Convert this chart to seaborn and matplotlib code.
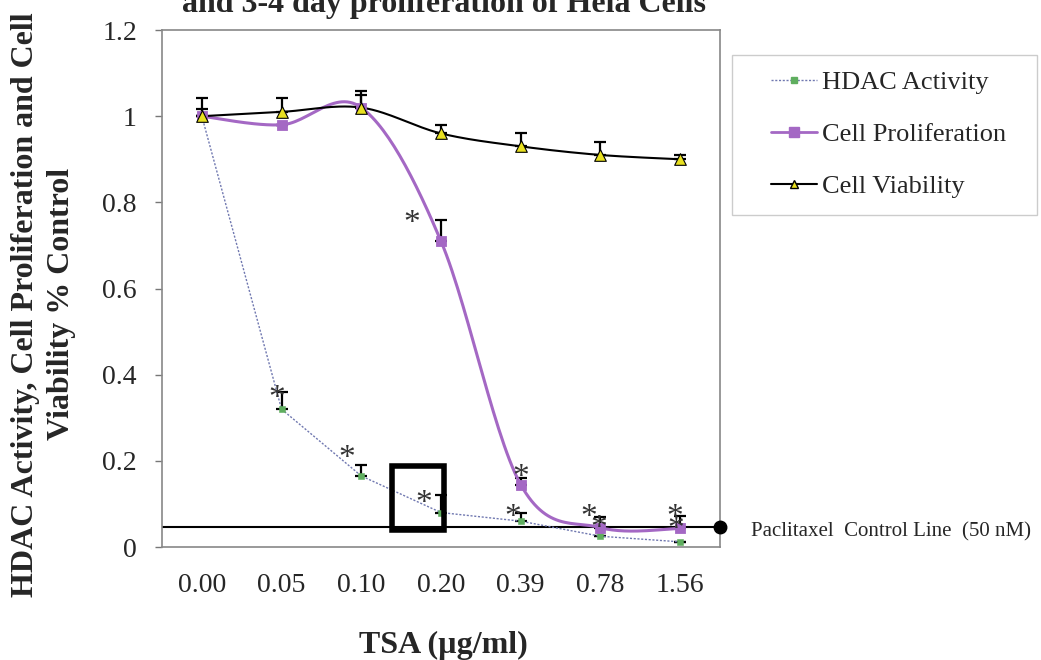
import numpy as np
import seaborn as sns
import matplotlib
matplotlib.use("Agg")
import matplotlib.pyplot as plt
from matplotlib.lines import Line2D
from matplotlib.patches import Rectangle

doses = ["0.00", "0.05", "0.10", "0.20", "0.39", "0.78", "1.56"]
hdac = [1.00, 0.32, 0.165, 0.08, 0.06, 0.025, 0.012]
hdac_err = [0.0, 0.04, 0.025, 0.04, 0.019, 0.0, 0.0]
prolif = [1.00, 0.98, 1.02, 0.71, 0.145, 0.045, 0.043]
prolif_err = [0.017, 0.0, 0.03, 0.05, 0.015, 0.025, 0.029]
viab = [1.00, 1.01, 1.02, 0.96, 0.93, 0.91, 0.90]
viab_err = [0.042, 0.032, 0.038, 0.02, 0.03, 0.03, 0.01]
paclitaxel = 0.047
# significance marks: (category, value)
stars = [(0.94, 0.345), (1.82, 0.205), (2.78, 0.10), (2.63, 0.75),
         (3.9, 0.067), (4.0, 0.16), (4.85, 0.068), (4.98, 0.043),
         (5.93, 0.068), (5.95, 0.04)]

sns.set_style("white")
plt.rcParams["font.family"] = ["Liberation Serif", "DejaVu Serif"]

purple = "#a468c4"
green = "#5fae5f"
dotted_blue = "#7078b0"


def smooth(y, n=30):
    # Excel-style smoothed line (Catmull-Rom bezier)
    y = np.asarray(y, float)
    x = np.arange(len(y), dtype=float)
    pts = np.column_stack([x, y])
    out = []
    for i in range(len(pts) - 1):
        p0 = pts[max(i - 1, 0)]
        p1 = pts[i]
        p2 = pts[i + 1]
        p3 = pts[min(i + 2, len(pts) - 1)]
        c1 = p1 + (p2 - p0) / 6
        c2 = p2 - (p3 - p1) / 6
        t = np.linspace(0, 1, n)[:, None]
        seg = ((1 - t) ** 3) * p1 + 3 * ((1 - t) ** 2) * t * c1 + 3 * (1 - t) * t ** 2 * c2 + t ** 3 * p2
        out.append(seg if i == 0 else seg[1:])
    return np.vstack(out)


fig = plt.figure(figsize=(10.41, 6.6), dpi=100)
ax = fig.add_axes([0.1556, 0.1712, 0.536, 0.7833])

xs = np.arange(len(doses))

# paclitaxel control line
ax.axhline(paclitaxel, color="black", lw=1.5, zorder=1)
ax.plot([6.5], [paclitaxel], "o", color="black", ms=9, clip_on=False, zorder=5)

# error bars (upper only)
for vals, err in [(hdac, hdac_err), (prolif, prolif_err), (viab, viab_err)]:
    ax.errorbar(xs, vals, yerr=[np.zeros(len(vals)), err], fmt="none",
                ecolor="black", elinewidth=1.6, capsize=4, capthick=1.6, zorder=2)

# HDAC activity - dotted straight line
sns.lineplot(x=xs, y=hdac, ax=ax, color=dotted_blue, lw=1.0, linestyle=(0, (1.5, 1.2)), zorder=3)
sns.scatterplot(x=xs, y=hdac, ax=ax, marker="s", s=24, color=green, edgecolor=green, zorder=4)

# Cell proliferation - smoothed
sp = smooth(prolif)
sns.lineplot(x=sp[:, 0], y=sp[:, 1], ax=ax, color=purple, lw=2.2, sort=False, zorder=3)
sns.scatterplot(x=xs, y=prolif, ax=ax, marker="s", s=55, color=purple, edgecolor=purple, zorder=4)

# Cell viability - smoothed
sv = smooth(viab)
sns.lineplot(x=sv[:, 0], y=sv[:, 1], ax=ax, color="black", lw=1.5, sort=False, zorder=3)
sns.scatterplot(x=xs, y=viab, ax=ax, marker="^", s=70, color="#e8e020", edgecolor="black", linewidth=0.8, zorder=4)

for sx, sy in stars:
    ax.text(sx, sy, "*", fontsize=24, color="#333333", ha="center", va="center", zorder=6)

ax.add_patch(Rectangle((2.38, 0.039), 0.66, 0.149, fill=False, edgecolor="black", lw=4, zorder=6))

ax.set_xlim(-0.5, 6.5)
ax.set_ylim(0, 1.2)
ax.set_xticks(xs)
ax.set_xticklabels(doses, fontsize=20)
ax.set_xticks(np.arange(-0.5, 7, 1), minor=True)
ax.tick_params(axis="x", which="major", length=0, pad=19)
ax.tick_params(axis="x", which="minor", length=6, width=1, color="#777777", direction="out")
ax.set_yticks([0, 0.2, 0.4, 0.6, 0.8, 1.0, 1.2])
ax.set_yticklabels(["0", "0.2", "0.4", "0.6", "0.8", "1", "1.2"], fontsize=20)
ax.tick_params(axis="y", length=5, width=1, color="#777777", direction="out", left=True, pad=13)
for sp_ in ax.spines.values():
    sp_.set_color("#888888")
    sp_.set_linewidth(1.2)

fig.text(0.4265, 0.982, "and 3-4 day proliferation of Hela Cells", fontsize=23,
         fontweight="bold", ha="center", va="baseline")
fig.text(0.4255, 0.0106, "TSA (µg/ml)", fontsize=23, fontweight="bold", ha="center", va="baseline")
fig.text(0.0415, 0.539, "HDAC Activity, Cell Proliferation and Cell\nViability % Control",
         fontsize=23, fontweight="bold", ha="center", va="center", rotation=90, linespacing=1.32)

fig.text(0.7215, 0.194, "Paclitaxel  Control Line  (50 nM)", fontsize=15, va="center", ha="left")

# legend box
fig.add_artist(Rectangle((732 / 1041, 1 - 215 / 660), 305 / 1041, 160 / 660,
                         transform=fig.transFigure, fill=False, edgecolor="#cccccc", lw=1.0))
handles = [
    Line2D([], [], color=dotted_blue, lw=1.0, linestyle=(0, (1.5, 1.2)), marker="s", ms=5,
           markerfacecolor=green, markeredgecolor=green),
    Line2D([], [], color=purple, lw=2.0, marker="s", ms=7, markerfacecolor=purple, markeredgecolor=purple),
    Line2D([], [], color="black", lw=1.5, marker="^", ms=6, markerfacecolor="#e8e020", markeredgecolor="black"),
]
leg = fig.legend(handles, ["HDAC Activity", "Cell Proliferation", "Cell Viability"],
                 loc="upper left", bbox_to_anchor=(771 / 1041, 1 - 71 / 660), fontsize=19,
                 frameon=False, handlelength=1.75, labelspacing=1.07,
                 borderpad=0, borderaxespad=0, handletextpad=0.2)

fig.savefig("out.png", dpi=100)
